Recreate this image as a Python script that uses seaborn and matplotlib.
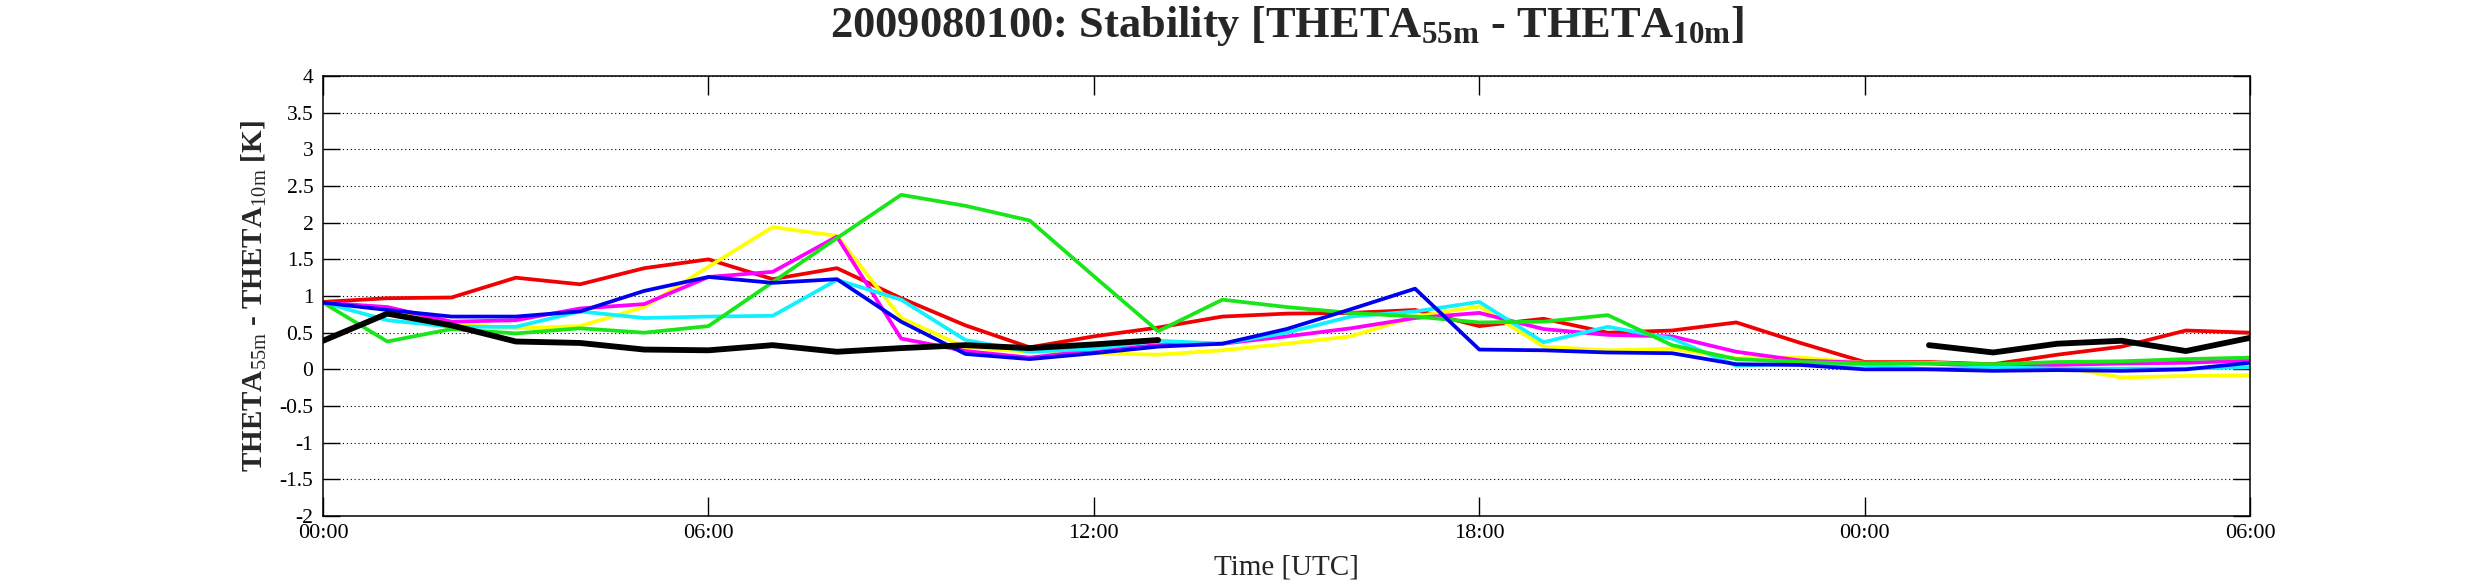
import numpy as np
import pandas as pd
import matplotlib
matplotlib.use("Agg")
import matplotlib.pyplot as plt
import seaborn as sns

# hourly values, 00 UTC day 1 .. 06 UTC day 2
hours = list(range(31))
tick_hours = [0, 6, 12, 18, 24, 30]
tick_labels = ["00:00", "06:00", "12:00", "18:00", "00:00", "06:00"]

red = [0.92, 0.97, 0.98, 1.25, 1.16, 1.38, 1.50, 1.23, 1.38, 0.97,
       0.60, 0.30, 0.45, 0.57, 0.72, 0.76, 0.77, 0.81, 0.59, 0.69,
       0.50, 0.53, 0.64, 0.36, 0.10, 0.10, 0.07, 0.20, 0.31, 0.53, 0.50]
yellow = [0.91, 0.82, 0.62, 0.56, 0.59, 0.85, 1.40, 1.94, 1.82, 0.70,
          0.30, 0.24, 0.22, 0.20, 0.26, 0.35, 0.45, 0.72, 0.86, 0.31,
          0.26, 0.28, 0.15, 0.16, 0.09, 0.09, 0.06, 0.04, -0.11, -0.09, -0.08]
magenta = [0.91, 0.85, 0.65, 0.67, 0.83, 0.89, 1.26, 1.33, 1.81, 0.42,
           0.25, 0.16, 0.26, 0.33, 0.35, 0.45, 0.56, 0.70, 0.77, 0.55,
           0.47, 0.45, 0.24, 0.12, 0.09, 0.08, 0.04, 0.06, 0.08, 0.09, 0.12]
cyan = [0.91, 0.67, 0.58, 0.58, 0.79, 0.70, 0.72, 0.73, 1.22, 0.95,
        0.40, 0.24, 0.28, 0.39, 0.35, 0.50, 0.72, 0.79, 0.92, 0.37,
        0.58, 0.42, 0.05, 0.08, 0.06, 0.00, 0.03, 0.01, 0.01, 0.01, 0.03]
green = [0.91, 0.38, 0.55, 0.49, 0.56, 0.50, 0.59, 1.19, 1.79, 2.38,
         2.23, 2.03, 1.27, 0.52, 0.95, 0.85, 0.77, 0.72, 0.64, 0.65,
         0.74, 0.33, 0.14, 0.10, 0.08, 0.08, 0.07, 0.10, 0.11, 0.14, 0.16]
blue = [0.91, 0.81, 0.72, 0.72, 0.79, 1.07, 1.26, 1.18, 1.23, 0.65,
        0.21, 0.14, 0.22, 0.31, 0.35, 0.55, 0.82, 1.10, 0.27, 0.26,
        0.23, 0.22, 0.07, 0.06, 0.00, 0.00, -0.02, -0.01, -0.02, 0.00, 0.09]
black = [0.39, 0.76, 0.60, 0.38, 0.36, 0.27, 0.26, 0.33, 0.24, 0.29,
         0.33, 0.29, 0.34, 0.40, np.nan, np.nan, np.nan, np.nan, np.nan, np.nan,
         np.nan, np.nan, np.nan, np.nan, np.nan, 0.33, 0.23, 0.35, 0.39, 0.25, 0.43]

series = [
    (red, "#F00000", 2.7),
    (yellow, "#FFFF00", 2.7),
    (magenta, "#FF00FF", 2.7),
    (cyan, "#10F0FF", 2.7),
    (green, "#18E618", 2.7),
    (blue, "#0000EE", 2.7),
    (black, "#000000", 4.2),
]

sns.set_theme(style="white")
plt.rcParams["font.family"] = ["Liberation Serif", "DejaVu Serif"]
plt.rcParams["mathtext.fontset"] = "custom"
plt.rcParams["mathtext.rm"] = "Liberation Serif"
plt.rcParams["mathtext.bf"] = "Liberation Serif:bold"
plt.rcParams["mathtext.it"] = "Liberation Serif:italic"
plt.rcParams["axes.unicode_minus"] = False

fig = plt.figure(figsize=(24.85, 5.84), dpi=100)
ax = fig.add_axes([0.1300, 0.1164, 0.7755, 0.7534])

for vals, col, lw in series:
    d = pd.DataFrame({"hour": hours, "value": vals})
    # split at gaps so missing hours are not bridged
    d["seg"] = d["value"].isna().cumsum()
    d = d.dropna()
    sns.lineplot(data=d, x="hour", y="value", units="seg", estimator=None,
                 color=col, linewidth=lw, ax=ax, legend=False)

ax.set_xlim(0, 30)
ax.set_ylim(-2, 4)
ax.set_xticks(tick_hours)
ax.set_xticklabels(tick_labels)
ax.set_yticks(np.arange(-2, 4.01, 0.5))
ax.set_yticklabels(["%g" % v for v in np.arange(-2, 4.01, 0.5)])

ax.yaxis.grid(True, color="black", linestyle=(0, (1, 2.5)), linewidth=0.8)
ax.xaxis.grid(False)
for s in ax.spines.values():
    s.set_color("black")
    s.set_linewidth(1.1)

ax.tick_params(axis="x", direction="in", length=14, width=1, top=True, bottom=True,
               labelsize=16, pad=6, colors="black")
ax.tick_params(axis="y", direction="in", length=12, width=1, left=True, right=True,
               labelsize=15.5, pad=7, colors="black")

ax.set_xlabel("Time [UTC]", fontsize=21)
ax.xaxis.set_label_coords(0.5, -0.088)
ax.set_ylabel(r"THETA$_{\mathrm{55m}}$ - THETA$_{\mathrm{10m}}$ [K]",
              fontsize=21, fontweight="bold")
ax.yaxis.set_label_coords(-0.028, 0.5)
ax.set_title(r"2009080100: Stability [THETA$_{\mathbf{55m}}$ - THETA$_{\mathbf{10m}}$]",
             fontsize=32, fontweight="bold", pad=28)

fig.savefig("out.png", dpi=100)
